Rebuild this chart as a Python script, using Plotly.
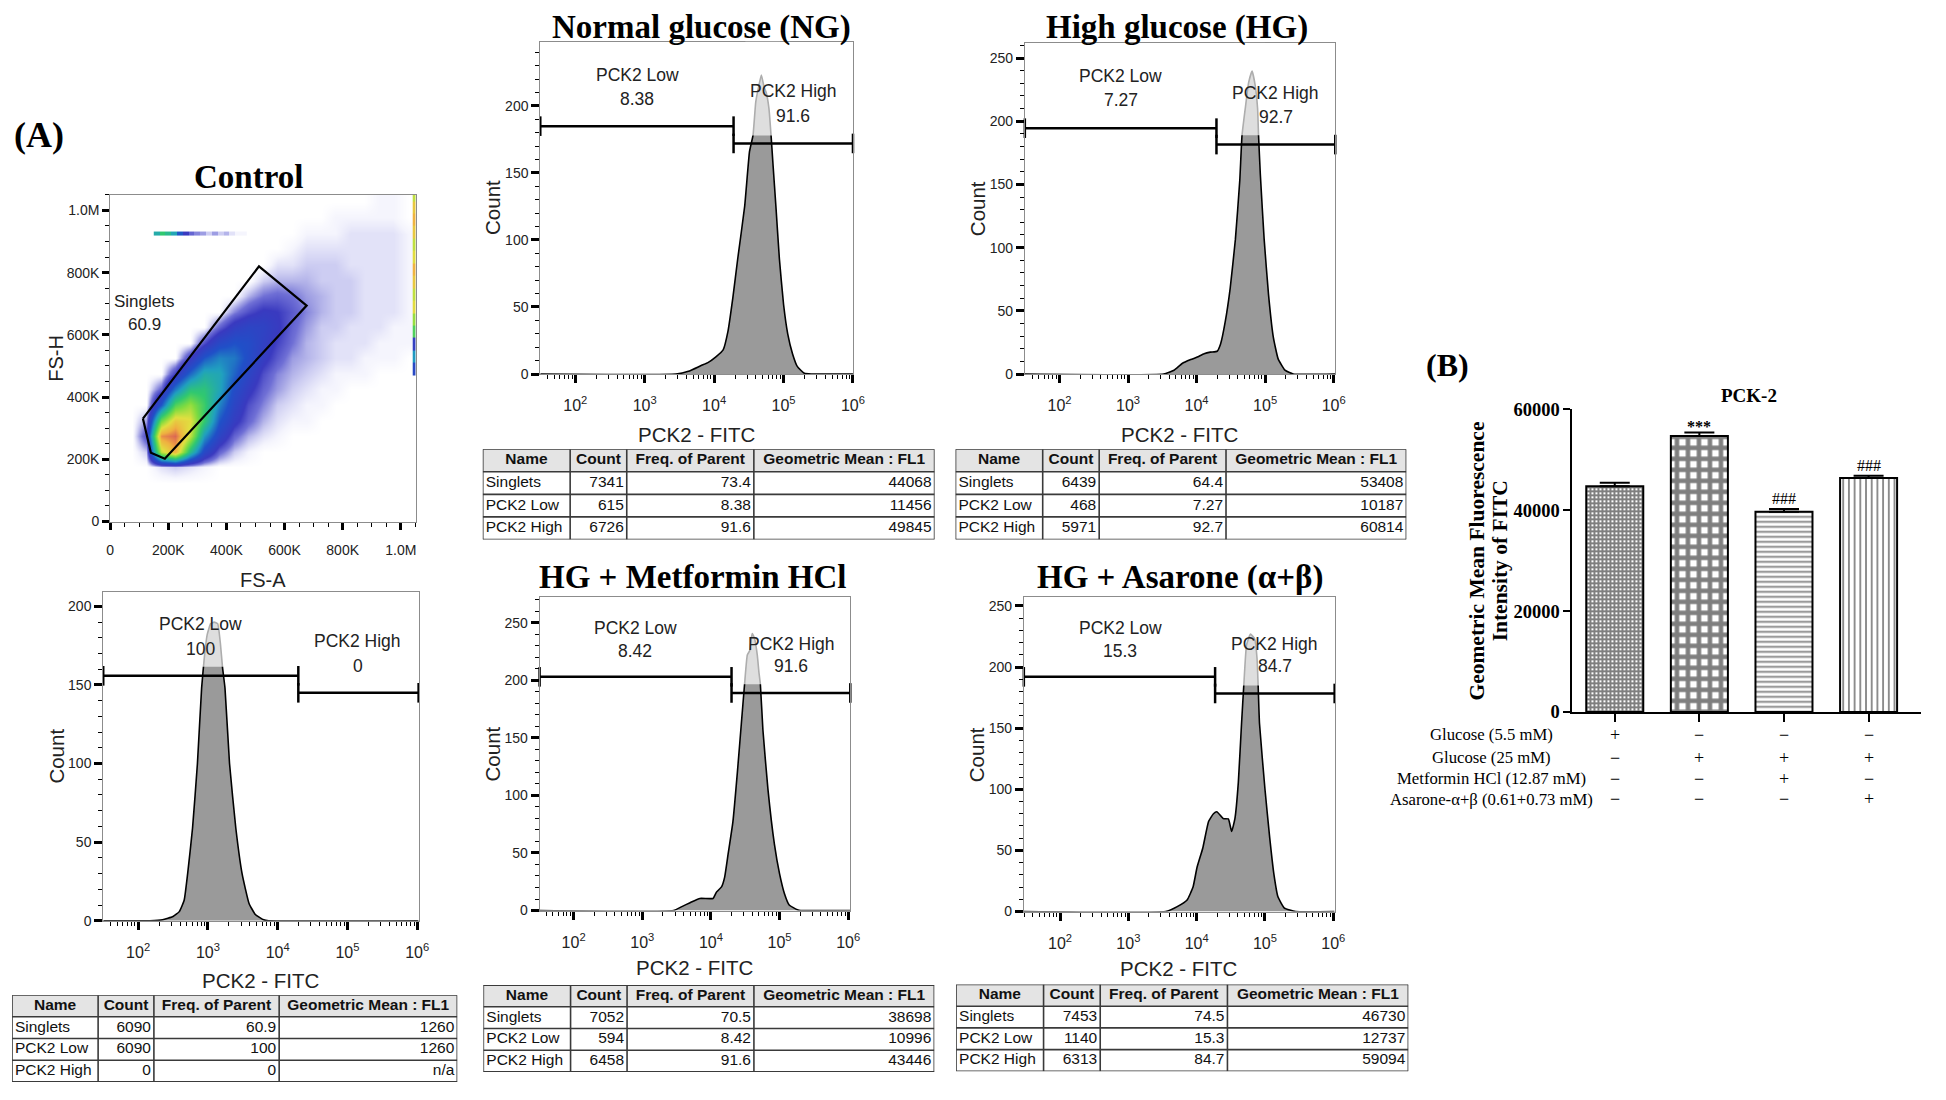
import math
import plotly.graph_objects as go

# The page has the browser's default 8px body margin; the figure is sized so that
# margin + figure + margin exactly fills the 1946x1100 window.
PAGE_MARGIN = 8
FIG_W, FIG_H = 1946 - 2 * PAGE_MARGIN, 1100 - 2 * PAGE_MARGIN
SANS = "Liberation Sans, Arial, Helvetica, sans-serif"
SERIF = "Liberation Serif, Times New Roman, serif"


def px(x):
    return min(1.0, max(0.0, (x - PAGE_MARGIN) / FIG_W))


def py(y):
    return min(1.0, max(0.0, 1 - (y - PAGE_MARGIN) / FIG_H))


# ====================== DATA ======================
# ---- (A) Control: FS-A vs FS-H event density (50K bins, relative density 0-100) ----
fs_bin_centers = [25, 75, 125, 175, 225, 275, 325, 375, 425, 475, 525,
                  575, 625, 675, 725, 775, 825, 875, 925, 975, 1025]
fs_density = [
    [0] * 21,
    [0] * 21,
    [0] * 21,
    [0, 0, 0, 2, 3, 2, 1, 0, 0, 0, 0, 0, 0, 0, 0, 0, 0, 0, 0, 0, 0],
    [0, 0, 3, 70, 85, 45, 20, 8, 3, 1, 0, 0, 0, 0, 0, 0, 0, 0, 0, 0, 0],
    [0, 0, 10, 90, 95, 70, 35, 18, 8, 4, 2, 1, 0, 0, 0, 0, 0, 0, 0, 0, 0],
    [0, 0, 5, 60, 80, 75, 50, 25, 14, 8, 4, 2, 1, 1, 0, 0, 0, 0, 0, 0, 0],
    [0, 0, 0, 25, 55, 65, 52, 32, 18, 10, 6, 3, 2, 1, 1, 0, 0, 0, 0, 0, 0],
    [0, 0, 0, 8, 30, 47, 48, 38, 22, 14, 8, 5, 3, 2, 1, 1, 0, 0, 0, 0, 0],
    [0, 0, 0, 0, 12, 28, 40, 38, 27, 18, 10, 6, 4, 3, 2, 1, 1, 1, 0, 0, 0],
    [0, 0, 0, 0, 0, 12, 25, 32, 30, 22, 14, 9, 5, 4, 3, 2, 2, 1, 1, 1, 0],
    [0, 0, 0, 0, 0, 0, 10, 20, 24, 22, 16, 11, 7, 4, 3, 2, 2, 2, 1, 1, 1],
    [0, 0, 0, 0, 0, 0, 0, 8, 15, 18, 17, 13, 8, 5, 3, 3, 2, 2, 2, 1, 1],
    [0, 0, 0, 0, 0, 0, 0, 0, 6, 10, 13, 12, 9, 6, 4, 3, 3, 2, 2, 2, 1],
    [0, 0, 0, 0, 0, 0, 0, 0, 0, 4, 7, 8, 7, 5, 4, 3, 3, 2, 2, 2, 1],
    [0, 0, 0, 0, 0, 0, 0, 0, 0, 0, 3, 4, 4, 4, 3, 3, 3, 2, 2, 2, 1],
    [0, 0, 0, 0, 0, 0, 0, 0, 0, 0, 0, 2, 2, 3, 3, 3, 2, 2, 2, 2, 1],
    [0, 0, 0, 0, 0, 0, 0, 0, 0, 0, 0, 0, 1, 2, 2, 2, 2, 2, 2, 2, 1],
    [0, 0, 0, 0, 0, 0, 0, 0, 0, 0, 0, 0, 0, 1, 1, 1, 2, 2, 2, 2, 1],
    [0, 0, 0, 0, 0, 0, 0, 0, 0, 0, 0, 0, 0, 0, 0, 1, 1, 1, 1, 1, 0],
    [0, 0, 0, 0, 0, 0, 0, 0, 0, 0, 0, 0, 0, 0, 0, 0, 0, 0, 1, 1, 0],
]
debris_band_x_edges = [150, 170, 190, 210, 230, 250, 270, 290, 310, 330,
                       350, 370, 390, 410, 430, 450, 470]
debris_band_y_edges = [918, 932]
debris_band_density = [40, 50, 45, 38, 25, 12, 8, 6, 5, 3, 5, 3, 4, 2, 1, 1]
edge_stripe_x_edges = [1041, 1051]
edge_stripe_y_edges = [470, 510, 550, 590, 630, 670, 710, 750, 790, 830,
                       870, 910, 950, 990, 1030, 1051]
edge_stripe_density = [20, 35, 15, 55, 65, 75, 70, 80, 85, 75, 70, 80, 85, 80, 70]
singlets_gate_x = [112.6, 512, 676, 188, 140, 112.6]
singlets_gate_y = [331, 820, 694, 202, 221, 331]
singlets_text = ["Singlets", "60.9"]
fs_tickvals = [0, 200, 400, 600, 800, 1000]
fs_ticktext = ["0", "200K", "400K", "600K", "800K", "1.0M"]

# ---- histograms: x = log10(PCK2-FITC), y = count ----
ctrl_log_fitc = [1.50, 2.17, 2.35, 2.50, 2.59, 2.66, 2.71, 2.78, 2.85, 2.91, 2.95, 2.99, 3.04,
                 3.09, 3.14, 3.18, 3.21, 3.245, 3.31, 3.40, 3.49, 3.59, 3.68, 3.80, 3.87, 6.02]
ctrl_count = [0, 0, 0.6, 2.7, 5.8, 13, 30, 59, 100, 148, 168, 182, 189,
              190, 189, 176, 161, 148, 100, 59, 30, 11, 4, 0.6, 0, 0]
ng_log_fitc = [1.496, 3.45, 3.63, 3.82, 3.91, 4.03, 4.13, 4.20, 4.27, 4.34, 4.44, 4.51, 4.56, 4.60,
               4.64, 4.68, 4.72, 4.75, 4.79, 4.82, 4.85, 4.89, 4.94, 5.00, 5.06, 5.13, 5.20, 5.30,
               5.40, 6.0]
ng_count = [0, 0, 2, 6.5, 8.5, 13, 18, 32, 57, 86, 125, 166, 178, 203,
            214, 223, 214, 210, 198, 178, 155, 125, 86, 52, 30, 15, 5.5, 0.5, 0, 0]
hg_log_fitc = [1.494, 3.52, 3.67, 3.79, 3.915, 4.01, 4.11, 4.20, 4.30, 4.35, 4.42, 4.49, 4.566,
               4.63, 4.663, 4.71, 4.76, 4.81, 4.856, 4.89, 4.904, 4.93, 4.986, 5.05, 5.12, 5.19,
               5.29, 5.41, 6.023]
hg_count = [0, 0, 3, 8.3, 11.4, 13.4, 16, 17.3, 18, 23.8, 42, 67.8, 106.5,
            153, 188.8, 210, 230.7, 239.7, 228, 210, 188.8, 158, 106.5, 62.6, 29, 12, 3, 0, 0]
met_log_fitc = [1.504, 3.455, 3.576, 3.696, 3.84, 4.03, 4.08, 4.154, 4.20, 4.25, 4.32, 4.385,
                4.443, 4.49, 4.53, 4.564, 4.60, 4.636, 4.675, 4.70, 4.72, 4.757, 4.83, 4.925,
                5.0, 5.07, 5.14, 5.26, 5.31, 6.03]
met_count = [0, 0, 3.4, 6.8, 10.5, 10.5, 16, 20.5, 29, 48.9, 77, 120,
             162.5, 196.6, 222, 225.6, 240.6, 236, 222, 206.5, 196.6, 157, 105.7, 57.4,
             31.8, 14.8, 4.8, 0.6, 0, 0]
asa_log_fitc = [1.47, 3.546, 3.715, 3.86, 3.947, 4.005, 4.09, 4.174, 4.246, 4.295, 4.39, 4.464,
                4.512, 4.56, 4.61, 4.657, 4.69, 4.73, 4.787, 4.85, 4.884, 4.90, 4.92, 5.0, 5.07,
                5.13, 5.19, 5.285, 5.45, 6.02]
asa_count = [0, 0, 4, 9.4, 20, 36, 52, 73.6, 80, 81.6, 76, 75.7,
             65.5, 76, 105.7, 153.8, 185, 218, 227, 223, 207, 185, 153.8, 100, 60,
             30.8, 12, 2.7, 0, 0]

# gates: [x start, x end, count level]
ctrl_gate_low, ctrl_gate_high = [1.50, 4.296, 155.8], [4.296, 6.02, 145]
ng_gate_low, ng_gate_high = [1.496, 4.28, 184.9], [4.28, 6.0, 172]
hg_gate_low, hg_gate_high = [1.494, 4.29, 194.5], [4.29, 6.023, 181.5]
met_gate_low, met_gate_high = [1.504, 4.30, 203], [4.30, 6.03, 189]
asa_gate_low, asa_gate_high = [1.47, 4.27, 192], [4.27, 6.02, 178.4]

ctrl_pct = ["100", "0"]
ng_pct = ["8.38", "91.6"]
hg_pct = ["7.27", "92.7"]
met_pct = ["8.42", "91.6"]
asa_pct = ["15.3", "84.7"]
gate_names = ["PCK2 Low", "PCK2 High"]

log_tickvals = [2, 3, 4, 5, 6]
log_ticktext = ["10<sup>2</sup>", "10<sup>3</sup>", "10<sup>4</sup>", "10<sup>5</sup>", "10<sup>6</sup>"]

# ---- statistics tables ----
table_header = ["Name", "Count", "Freq. of Parent", "Geometric Mean : FL1"]
table_colwidths = [88, 57, 128, 182]
pop_names = ["Singlets", "PCK2 Low", "PCK2 High"]
ctrl_table = [["6090", "6090", "0"], ["60.9", "100", "0"], ["1260", "1260", "n/a"]]
ng_table = [["7341", "615", "6726"], ["73.4", "8.38", "91.6"], ["44068", "11456", "49845"]]
hg_table = [["6439", "468", "5971"], ["64.4", "7.27", "92.7"], ["53408", "10187", "60814"]]
met_table = [["7052", "594", "6458"], ["70.5", "8.42", "91.6"], ["38698", "10996", "43446"]]
asa_table = [["7453", "1140", "6313"], ["74.5", "15.3", "84.7"], ["46730", "12737", "59094"]]

# ---- (B) bar chart ----
bar_groups = [0, 1, 2, 3]
bar_means = [44760, 54690, 39700, 46380]
bar_errs = [660, 720, 520, 470]
bar_sig = ["", "***", "###", "###"]
bar_yticks = [0, 20000, 40000, 60000]
treat_labels = ["Glucose (5.5 mM)", "Glucose (25 mM)", "Metformin HCl (12.87 mM)",
                "Asarone-\u03b1+\u03b2 (0.61+0.73 mM)"]
treat_signs = [["+", "\u2212", "\u2212", "\u2212"],
               ["\u2212", "+", "+", "+"],
               ["\u2212", "\u2212", "+", "\u2212"],
               ["\u2212", "\u2212", "\u2212", "+"]]

# ====================== FIGURE ======================
fig = go.Figure()
annotations = []
shapes = []
layout_axes = {}

density_cs = [
    [0.0, "#ffffff"], [0.01, "#f5f5fd"], [0.02, "#e2e2f8"], [0.03, "#cdcdf2"],
    [0.045, "#a8a8e6"], [0.07, "#7070d6"], [0.12, "#3a3ac0"], [0.24, "#2050c8"],
    [0.36, "#20a0c0"], [0.5, "#30c870"], [0.62, "#80dc40"], [0.74, "#e0e040"],
    [0.86, "#f0b040"], [0.94, "#e07050"], [1.0, "#a04870"],
]

TICKFONT = dict(family=SANS, size=14, color="#222")
FRAME = dict(showline=True, linecolor="#8c8c8c", linewidth=1, mirror=True,
             showgrid=False, zeroline=False, fixedrange=True)


def ann(text, x, y, size, family=SANS, color="#222", bold=False, xref="paper", yref="paper",
        angle=0, xanchor="center", yanchor="middle", yshift=0):
    annotations.append(dict(
        text=text, x=x, y=y, xref=xref, yref=yref, showarrow=False, textangle=angle,
        xanchor=xanchor, yanchor=yanchor, yshift=yshift,
        font=dict(family=family, size=size, color=color, weight="bold" if bold else "normal")))


# ---- Control scatter (axis 1) ----
sc_box = (107, 415, 188, 521)
fig.add_trace(go.Heatmap(x=fs_bin_centers, y=fs_bin_centers, z=fs_density, zsmooth="best",
                         colorscale=density_cs, zmin=0, zmax=100, showscale=False,
                         xaxis="x", yaxis="y", hoverinfo="skip"))
fig.add_trace(go.Heatmap(x=debris_band_x_edges, y=debris_band_y_edges, z=[debris_band_density],
                         colorscale=density_cs, zmin=0, zmax=100, showscale=False,
                         xaxis="x", yaxis="y", hoverinfo="skip"))
fig.add_trace(go.Heatmap(x=edge_stripe_x_edges, y=edge_stripe_y_edges,
                         z=[[v] for v in edge_stripe_density],
                         colorscale=density_cs, zmin=0, zmax=100, showscale=False,
                         xaxis="x", yaxis="y", hoverinfo="skip"))
fig.add_trace(go.Scatter(x=singlets_gate_x, y=singlets_gate_y, mode="lines",
                         line=dict(color="black", width=2.2), xaxis="x", yaxis="y"))
layout_axes["xaxis"] = dict(domain=[px(sc_box[0]), px(sc_box[1])], range=[0, 1051], anchor="y",
                            tickmode="array", tickvals=fs_tickvals, ticktext=fs_ticktext,
                            ticks="outside", ticklen=7, tickwidth=2.5, tickcolor="black",
                            ticklabelstandoff=9,
                            minor=dict(tick0=0, dtick=50, ticks="outside", ticklen=4, tickwidth=1,
                                       tickcolor="black"),
                            tickfont=TICKFONT, **FRAME)
layout_axes["yaxis"] = dict(domain=[py(sc_box[3]), py(sc_box[2])], range=[0, 1050.5], anchor="x",
                            tickmode="array", tickvals=fs_tickvals, ticktext=fs_ticktext,
                            ticks="outside", ticklen=7, tickwidth=2.5, tickcolor="black",
                            minor=dict(tick0=0, dtick=50, ticks="outside", ticklen=4, tickwidth=1,
                                       tickcolor="black"),
                            tickfont=TICKFONT, **FRAME)
ann(singlets_text[0], 118, 708, 17, xref="x", yref="y")
ann(singlets_text[1], 118, 634, 17, xref="x", yref="y")
ann("FS-A", px((sc_box[0] + sc_box[1]) / 2), py(sc_box[3] + 60), 20)
ann("FS-H", px(sc_box[0] - 55), py((sc_box[2] + sc_box[3]) / 2), 20, angle=-90)
ann("Control", px(246), py(170), 33, family=SERIF, color="black", bold=True)
ann("(A)", px(0), py(127), 36, family=SERIF, color="black", bold=True, xanchor="left")

# ---- histogram panels ----
minor_log = [math.log10(k * 10 ** d) for d in range(1, 6) for k in range(2, 10)]

panels = [
    dict(n=2, title="Normal glucose (NG)", tpos=(703, 18), x=ng_log_fitc, y=ng_count,
         gl=ng_gate_low, gh=ng_gate_high, pct=ng_pct,
         lpos=(2.89, 223, 205), hpos=(5.14, 211, 192.7),
         box=(540.7, 856, 32, 370.7), xr=[1.496, 6.0], yr=[0, 248],
         light=(178, 4.45, 4.95), xtoff=62, table=ng_table, tbox=(482.7, 938.3, 447.3), rowh=23),
    dict(n=3, title="High glucose (HG)", tpos=(1183, 18), x=hg_log_fitc, y=hg_count,
         gl=hg_gate_low, gh=hg_gate_high, pct=hg_pct,
         lpos=(2.89, 235.8, 216.4), hpos=(5.155, 222.4, 203),
         box=(1029.3, 1342.3, 33.3, 370.7), xr=[1.494, 6.023], yr=[0, 262],
         light=(188.8, 4.55, 5.0), xtoff=62, table=hg_table, tbox=(959.4, 1414, 447.3), rowh=23),
    dict(n=4, title=None, tpos=None, x=ctrl_log_fitc, y=ctrl_count,
         gl=ctrl_gate_low, gh=ctrl_gate_high, pct=ctrl_pct,
         lpos=(2.90, 188.5, 173), hpos=(5.15, 177.7, 162),
         box=(100, 418, 593, 927.7), xr=[1.5, 6.02], yr=[0, 209],
         light=(161.5, 2.75, 3.4), xtoff=60.5, table=ctrl_table, tbox=(8, 457, 1003.5), rowh=22.1),
    dict(n=5, title="HG + Metformin HCl", tpos=(695, 577), x=met_log_fitc, y=met_count,
         gl=met_gate_low, gh=met_gate_high, pct=met_pct,
         lpos=(2.90, 245.7, 225.6), hpos=(5.17, 231.5, 212),
         box=(540, 853.3, 598.3, 917.3), xr=[1.504, 6.03], yr=[0, 272],
         light=(196.6, 4.4, 4.85), xtoff=58, table=met_table, tbox=(483.3, 938, 993.3), rowh=22.1),
    dict(n=6, title="HG + Asarone (\u03b1+\u03b2)", tpos=(1186, 578), x=asa_log_fitc, y=asa_count,
         gl=asa_gate_low, gh=asa_gate_high, pct=asa_pct,
         lpos=(2.88, 232, 213), hpos=(5.14, 218.8, 200.6),
         box=(1028.3, 1341.7, 598.3, 918.3), xr=[1.47, 6.02], yr=[0, 257],
         light=(185, 4.6, 5.0), xtoff=58.5, table=asa_table, tbox=(960, 1416, 992.7), rowh=22.1),
]

tcount = 8
for p in panels:
    n = p["n"]
    xa, ya = f"x{n}", f"y{n}"
    x0, x1, y0, y1 = p["box"]
    fig.add_trace(go.Scatter(x=p["x"], y=p["y"], mode="lines", fill="tozeroy",
                             fillcolor="#9a9a9a",
                             line=dict(color="black", width=1.6, shape="spline", smoothing=0.4),
                             cliponaxis=False, xaxis=xa, yaxis=ya))
    for g in (p["gl"], p["gh"]):
        fig.add_trace(go.Scatter(x=[g[0], g[1]], y=[g[2], g[2]], mode="lines+markers",
                                 line=dict(color="black", width=2.5),
                                 marker=dict(symbol="line-ns", size=14, color="black",
                                             line=dict(color="black", width=2.5)),
                                 cliponaxis=False, xaxis=xa, yaxis=ya))
    thr, lx0, lx1 = p["light"]
    shapes.append(dict(type="rect", xref=xa, yref=ya, x0=lx0, x1=lx1, y0=thr, y1=p["yr"][1],
                       fillcolor="rgba(255,255,255,0.68)", line=dict(width=0), layer="above"))
    layout_axes[f"xaxis{n}"] = dict(
        domain=[px(x0), px(x1)], range=p["xr"], anchor=ya,
        tickmode="array", tickvals=log_tickvals, ticktext=log_ticktext,
        ticks="outside", ticklen=8, tickwidth=2.5, tickcolor="black", ticklabelstandoff=9,
        minor=dict(tickmode="array", tickvals=minor_log, ticks="outside", ticklen=4,
                   tickwidth=1, tickcolor="black"),
        tickfont=dict(family=SANS, size=16, color="#222"), **FRAME)
    layout_axes[f"yaxis{n}"] = dict(
        domain=[py(y1), py(y0)], range=p["yr"], anchor=xa,
        tickmode="linear", tick0=0, dtick=50,
        ticks="outside", ticklen=8, tickwidth=2.5, tickcolor="black",
        minor=dict(tick0=0, dtick=10, ticks="outside", ticklen=4, tickwidth=1, tickcolor="black"),
        tickfont=TICKFONT, **FRAME)
    lx, ly1, ly2 = p["lpos"]
    hx, hy1, hy2 = p["hpos"]
    ann(gate_names[0], lx, ly1, 17.5, xref=xa, yref=ya)
    ann(p["pct"][0], lx, ly2, 17.5, xref=xa, yref=ya)
    ann(gate_names[1], hx, hy1, 17.5, xref=xa, yref=ya)
    ann(p["pct"][1], hx, hy2, 17.5, xref=xa, yref=ya)
    ann("Count", px(x0 - 47.5), py((y0 + y1) / 2), 20.5, angle=-90)
    ann("PCK2 - FITC", px((x0 + x1) / 2), py(y1 + p["xtoff"]), 20.5)
    if p["title"]:
        ann(p["title"], px(p["tpos"][0]), py(p["tpos"][1]), 33, family=SERIF, color="black",
            bold=True)

    # ---- statistics table on its own (hidden) axes: x in column units, y in rows ----
    tx0, tx1, ty0 = p["tbox"]
    rh = p["rowh"]
    txa, tya = f"x{tcount}", f"y{tcount}"
    total_w = sum(table_colwidths)
    layout_axes[f"xaxis{tcount}"] = dict(domain=[px(tx0), px(tx1)], range=[0, total_w],
                                         anchor=tya, visible=False, fixedrange=True)
    layout_axes[f"yaxis{tcount}"] = dict(domain=[py(ty0 + 4 * rh), py(ty0)], range=[4, 0],
                                         anchor=txa, visible=False, fixedrange=True)
    bounds = [0]
    for cw in table_colwidths:
        bounds.append(bounds[-1] + cw)
    shapes.append(dict(type="rect", xref=txa, yref=tya, x0=0, x1=total_w, y0=0, y1=1,
                       fillcolor="#e4e4e4", line=dict(width=0), layer="below"))
    for b in bounds:
        shapes.append(dict(type="line", xref=txa, yref=tya, x0=b, x1=b, y0=0, y1=4,
                           line=dict(color="#3a3a3a", width=1.6)))
    for r in range(5):
        shapes.append(dict(type="line", xref=txa, yref=tya, x0=0, x1=total_w, y0=r, y1=r,
                           line=dict(color="#3a3a3a", width=1.6)))
    fig.add_trace(go.Scatter(
        x=[(bounds[c] + bounds[c + 1]) / 2 for c in range(4)], y=[0.5] * 4,
        text=table_header, mode="text", textposition="middle center",
        textfont=dict(family=SANS, size=15.5, color="#111", weight="bold"),
        cliponaxis=False, xaxis=txa, yaxis=tya, hoverinfo="skip"))
    cols = [pop_names] + p["table"]
    bx, by, bt, bp = [], [], [], []
    for c, col in enumerate(cols):
        for r, val in enumerate(col):
            if c == 0:
                bx.append(bounds[0] + 3)
                bp.append("middle right")
            else:
                bx.append(bounds[c + 1] - 3)
                bp.append("middle left")
            by.append(r + 1.5)
            bt.append(val)
    fig.add_trace(go.Scatter(
        x=bx, y=by, text=bt, mode="text", textposition=bp,
        textfont=dict(family=SANS, size=15.5, color="#111"),
        cliponaxis=False, xaxis=txa, yaxis=tya, hoverinfo="skip"))
    tcount += 1

# ---- (B) bar chart (axis 20) ----
fig.add_trace(go.Bar(
    x=bar_groups, y=bar_means, width=0.674, xaxis="x20", yaxis="y20",
    marker=dict(color="white", line=dict(color="black", width=2),
                pattern=dict(shape=["+", "+", "-", "|"], size=[4, 11, 5, 5.7],
                             solidity=[0.75, 0.65, 0.35, 0.3], fgcolor="black",
                             bgcolor="white")),
    error_y=dict(type="data", array=bar_errs, arrayminus=[0, 0, 0, 0], symmetric=False,
                 color="black", thickness=2, width=15),
))
bar_box = (1581.5, 1933, 406.7, 715)
layout_axes["xaxis20"] = dict(domain=[px(bar_box[0]), px(bar_box[1])], range=[-0.5, 3.62],
                              anchor="y20", tickmode="array", tickvals=bar_groups,
                              showticklabels=False, ticks="outside", ticklen=8, tickwidth=2,
                              tickcolor="black", showline=True, linecolor="black", linewidth=2,
                              showgrid=False, zeroline=False, fixedrange=True)
layout_axes["yaxis20"] = dict(domain=[py(bar_box[3]), py(bar_box[2])], range=[0, 60000],
                              anchor="x20", tickmode="array", tickvals=bar_yticks,
                              tickformat="d",
                              ticks="outside", ticklen=7, tickwidth=2, tickcolor="black",
                              showline=True, linecolor="black", linewidth=2,
                              showgrid=False, zeroline=False, fixedrange=True,
                              tickfont=dict(family=SERIF, size=18.5, color="black",
                                            weight="bold"))
for i, s in enumerate(bar_sig):
    if s:
        ann(s, bar_groups[i], bar_means[i] + bar_errs[i], 16, family=SERIF, color="black",
            bold=(s == "***"), xref="x20", yref="y20", yanchor="bottom",
            yshift=-5 if s == "***" else 0)
ann("Geometric Mean Fluorescence", px(1485), py(561), 21.5, family=SERIF, color="black",
    bold=True, angle=-90)
ann("Intensity of FITC", px(1508), py(561), 21.5, family=SERIF, color="black", bold=True,
    angle=-90)
ann("PCK-2", px(1760), py(393), 19, family=SERIF, color="black", bold=True)
ann("(B)", px(1455), py(362), 32, family=SERIF, color="black", bold=True)
row_y = [738, 761.7, 783.3, 804]
for r, lab in enumerate(treat_labels):
    ann(lab, px(1500), py(row_y[r]), 16.7, family=SERIF, color="black")
    for c, s in enumerate(treat_signs[r]):
        ann(s, bar_groups[c], py(row_y[r]), 18, family=SERIF, color="black", xref="x20")

fig.update_layout(
    width=FIG_W, height=FIG_H, margin=dict(l=0, r=0, t=0, b=0),
    paper_bgcolor="white", plot_bgcolor="white", showlegend=False,
    annotations=annotations, shapes=shapes, **layout_axes,
)
fig.write_html("out.html", config={"displayModeBar": False})
